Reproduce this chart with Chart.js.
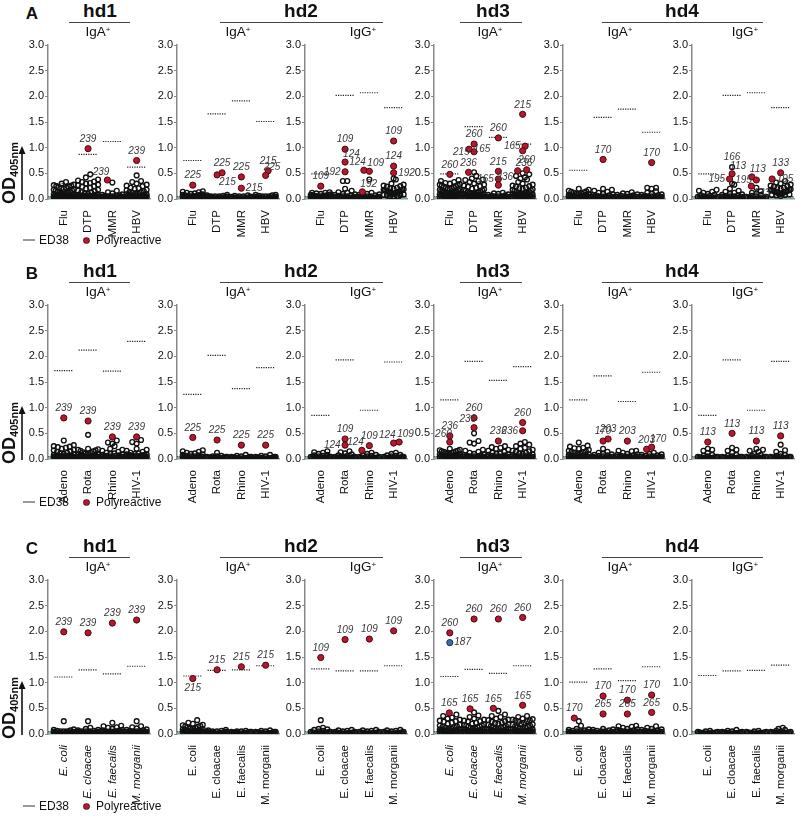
<!DOCTYPE html>
<html>
<head>
<meta charset="utf-8">
<title>OD405 reactivity of IgA+/IgG+ clones</title>
<script src="https://cdn.jsdelivr.net/npm/chart.js@4.4.1/dist/chart.umd.min.js"></script>
<style>
  body { margin: 0; background: #fff; }
  #fig { position: relative; width: 800px; height: 820px; overflow: hidden;
         font-family: "Liberation Sans", Arial, sans-serif; color: #111; }
  #fig canvas { position: absolute; }
  .t { position: absolute; white-space: nowrap; line-height: 1; }
  .c { transform: translate(-50%, -50%); }
  sup { font-size: 0.6em; vertical-align: 0.55em; }
  .odlab { font-weight: bold; font-size: 18px; transform: translate(-50%, -50%) rotate(-90deg); }
  .odlab sub { font-size: 11px; vertical-align: -0.25em; }
</style>
</head>
<body>
<div id="fig"></div>
<script>
'use strict';

// ── Data ─────────────────────────────────────────────────────────
// All OD405 values are stored ×100 (e.g. 37 = OD 0.37).

const categoriesA = ['Flu', 'DTP', 'MMR', 'HBV'];
const categoriesB = ['Adeno', 'Rota', 'Rhino', 'HIV-1'];
const categoriesC = ['E. coli', 'E. cloacae', 'E. faecalis', 'M. morganii'];

const donors   = ['hd1', 'hd2', 'hd3', 'hd4'];
const isotypes = ['IgA', 'IgA', 'IgG', 'IgA', 'IgA', 'IgG'];   // one per panel
const ed38Od   = 3;

// positive-control cut-off per panel, per category
const cutoffA = [[30, 87, 112, 62], [75, 166, 191, 151], [49, 202, 207, 178],
                 [49, 141, 120, 107], [56, 159, 175, 130], [49, 202, 207, 178]];
const cutoffB = [[172, 212, 171, 229], [126, 202, 137, 178], [85, 193, 95, 189],
                 [115, 190, 153, 180], [115, 162, 112, 169], [85, 193, 95, 190]];
const cutoffC = [[111, 125, 117, 132], [113, 124, 125, 133], [127, 123, 123, 133],
                 [112, 126, 118, 133], [101, 127, 104, 131], [114, 123, 124, 134]];

// non-polyreactive clones, per panel, per category
const clonesA = [
  [ // hd1 IgA
    [33, 30, 28, 27, 26, 25, 24, 23, 22, 21, 20, 19, 18, 17, 16, 15, 14, 13, 12, 12, 11, 10, 10, 9, 9, 8, 8, 7, 7, 6, 6, 5, 5, 5, 4, 4, 4, 3, 3, 3, 2, 2, 2, 1, 1, 1, 2, 2, 3, 3, 4, 4, 5, 6, 7],
    [48, 42, 38, 36, 34, 33, 31, 30, 28, 27, 25, 24, 22, 20, 18, 16, 15, 13, 12, 11, 10, 9, 8, 8, 7, 7, 6, 6, 5, 5, 5, 4, 4, 4, 3, 3, 3, 2, 2, 2, 1, 1, 1, 2, 2, 3, 3, 4, 5, 6],
    [32, 16, 13, 11, 9, 8, 7, 6, 6, 5, 5, 4, 4, 4, 3, 3, 3, 2, 2, 2, 2, 1, 1, 1, 1, 2, 2, 3, 3, 4, 5],
    [46, 35, 33, 30, 28, 26, 25, 22, 21, 20, 18, 17, 15, 14, 13, 12, 11, 10, 9, 9, 8, 8, 7, 7, 6, 6, 5, 5, 4, 4, 4, 3, 3, 3, 2, 2, 2, 1, 1, 1, 2, 2, 3, 3, 4, 5, 6],
  ],
  [ // hd2 IgA
    [15, 14, 13, 12, 11, 10, 9, 8, 8, 7, 7, 6, 6, 5, 5, 4, 4, 4, 3, 3, 3, 2, 2, 2, 1, 1, 1, 2, 2, 3, 3, 4, 5],
    [8, 7, 6, 5, 5, 4, 4, 4, 3, 3, 3, 3, 2, 2, 2, 2, 2, 1, 1, 1, 1, 1, 2, 2, 3, 3, 4, 5],
    [7, 6, 5, 5, 4, 4, 3, 3, 3, 2, 2, 2, 2, 1, 1, 1, 1, 1, 2, 2, 3, 3, 4],
    [8, 8, 7, 6, 5, 5, 4, 4, 3, 3, 3, 2, 2, 2, 2, 1, 1, 1, 1, 1, 2, 2, 3, 3, 4, 5],
  ],
  [ // hd2 IgG
    [13, 12, 12, 11, 10, 9, 8, 8, 7, 7, 6, 6, 5, 5, 4, 4, 4, 3, 3, 3, 2, 2, 2, 1, 1, 1, 2, 2, 3, 3, 4, 5],
    [35, 35, 20, 16, 13, 12, 10, 9, 8, 7, 6, 5, 5, 4, 4, 3, 3, 3, 2, 2, 2, 1, 1, 1, 2, 2, 3, 3, 4],
    [38, 12, 10, 9, 8, 7, 6, 5, 5, 4, 4, 3, 3, 3, 2, 2, 2, 1, 1, 1, 1, 2, 2, 3, 3, 4],
    [40, 38, 30, 28, 26, 25, 24, 22, 21, 20, 19, 18, 18, 17, 16, 15, 15, 14, 13, 12, 11, 10, 9, 8, 7, 6, 5, 4, 3, 2, 16, 14, 12, 10, 8, 6],
  ],
  [ // hd3 IgA
    [37, 35, 33, 31, 30, 29, 28, 27, 26, 25, 24, 23, 22, 21, 20, 20, 19, 18, 17, 16, 15, 15, 14, 13, 13, 12, 12, 11, 11, 10, 10, 9, 9, 8, 8, 8, 7, 7, 6, 6, 5, 5, 4, 4, 3, 3, 2, 2, 1, 1, 2, 3, 4, 5, 6, 7, 8],
    [52, 45, 40, 38, 37, 35, 33, 30, 28, 26, 25, 24, 22, 20, 19, 18, 17, 16, 15, 14, 13, 12, 12, 11, 10, 10, 9, 9, 8, 8, 7, 7, 6, 6, 5, 5, 4, 4, 3, 3, 2, 2, 1, 1, 2, 3, 4, 5, 6, 7],
    [12, 11, 10, 9, 8, 7, 6, 5, 5, 4, 4, 3, 3, 3, 2, 2, 2, 2, 1, 1, 1, 1, 1, 2, 2, 3, 3, 4, 5],
    [50, 48, 45, 42, 40, 38, 33, 30, 28, 26, 25, 24, 22, 21, 20, 19, 18, 17, 16, 15, 14, 13, 12, 12, 11, 10, 10, 9, 9, 8, 8, 7, 7, 6, 6, 5, 5, 4, 4, 3, 3, 2, 2, 1, 1, 2, 3, 4, 5, 6, 7],
  ],
  [ // hd4 IgA
    [20, 18, 16, 15, 14, 13, 12, 11, 10, 10, 9, 8, 8, 7, 7, 6, 6, 5, 5, 4, 4, 4, 3, 3, 2, 2, 1, 1, 2, 2, 3, 3, 4, 5],
    [20, 18, 16, 14, 12, 10, 9, 8, 7, 6, 5, 5, 4, 4, 3, 3, 3, 2, 2, 2, 1, 1, 1, 2, 2, 3, 3, 4],
    [13, 11, 10, 9, 8, 7, 6, 5, 5, 4, 4, 3, 3, 2, 2, 2, 1, 1, 1, 2, 2, 3, 3, 4],
    [22, 22, 20, 15, 12, 10, 9, 8, 7, 6, 5, 5, 4, 4, 3, 3, 3, 2, 2, 2, 1, 1, 1, 2, 2, 3, 3, 4, 5],
  ],
  [ // hd4 IgG
    [18, 16, 14, 12, 10, 8, 7, 6, 5, 4, 4, 3, 3, 2, 2, 1, 1, 1, 2, 2, 3, 3],
    [62, 30, 28, 20, 16, 14, 12, 10, 9, 8, 7, 6, 5, 5, 4, 4, 3, 3, 2, 2, 1, 1, 1, 2, 2, 3, 3, 4],
    [22, 15, 12, 10, 8, 6, 5, 4, 4, 3, 3, 2, 2, 1, 1, 1, 2, 2, 3, 3],
    [35, 32, 30, 28, 26, 25, 24, 22, 21, 20, 19, 18, 17, 16, 15, 14, 13, 12, 11, 10, 9, 8, 7, 6, 18, 16, 14, 12, 10, 8],
  ],
];

const clonesB = [
  [ // hd1 IgA
    [36, 27, 25, 24, 23, 22, 20, 18, 17, 15, 14, 12, 11, 10, 9, 8, 7, 7, 6, 6, 5, 5, 4, 4, 4, 3, 3, 3, 2, 2, 2, 1, 1, 1, 1, 2, 2, 3, 3, 4, 5],
    [47, 20, 19, 18, 17, 16, 15, 13, 12, 11, 10, 9, 8, 7, 7, 6, 6, 5, 5, 4, 4, 4, 3, 3, 3, 2, 2, 2, 1, 1, 1, 1, 2, 2, 3, 3, 4, 5],
    [36, 32, 30, 25, 20, 18, 16, 14, 12, 11, 10, 9, 8, 7, 6, 6, 5, 5, 4, 4, 3, 3, 3, 2, 2, 2, 1, 1, 1, 1, 2, 2, 3, 3, 4],
    [37, 33, 30, 20, 18, 16, 14, 12, 11, 10, 9, 9, 8, 8, 7, 7, 6, 6, 5, 5, 4, 4, 3, 3, 3, 2, 2, 2, 1, 1, 1, 2, 2, 3, 3, 4, 5],
  ],
  [ // hd2 IgA
    [17, 15, 14, 12, 11, 10, 9, 8, 7, 6, 5, 5, 4, 4, 3, 3, 3, 2, 2, 2, 1, 1, 1, 2, 2, 3, 3, 4],
    [12, 6, 5, 5, 4, 4, 3, 3, 3, 2, 2, 2, 2, 1, 1, 1, 1, 1, 2, 2, 3, 3, 4],
    [8, 6, 5, 4, 4, 3, 3, 3, 2, 2, 2, 2, 1, 1, 1, 1, 1, 2, 2, 3, 3, 4],
    [8, 6, 5, 4, 4, 3, 3, 3, 2, 2, 2, 2, 1, 1, 1, 1, 1, 2, 2, 3, 3, 4],
  ],
  [ // hd2 IgG
    [15, 13, 12, 10, 8, 7, 6, 5, 4, 4, 3, 3, 2, 2, 2, 1, 1, 1, 2, 2, 3, 3, 4],
    [15, 13, 11, 9, 7, 6, 5, 4, 4, 3, 3, 2, 2, 2, 1, 1, 1, 2, 2, 3, 3, 4],
    [12, 10, 8, 7, 6, 5, 4, 4, 3, 3, 2, 2, 2, 1, 1, 1, 1, 2, 2, 3, 3],
    [12, 10, 8, 7, 6, 5, 4, 4, 3, 3, 2, 2, 2, 1, 1, 1, 1, 2, 2, 3, 3, 4],
  ],
  [ // hd3 IgA
    [20, 18, 17, 16, 15, 15, 14, 13, 12, 12, 11, 10, 9, 9, 8, 8, 7, 7, 6, 6, 5, 5, 4, 4, 3, 3, 2, 2, 1, 1, 1, 2, 3, 4, 5, 6],
    [50, 35, 32, 30, 18, 16, 14, 12, 10, 9, 8, 7, 6, 5, 5, 4, 4, 3, 3, 2, 2, 1, 1, 1, 2, 2, 3, 3, 4, 5],
    [25, 23, 22, 20, 18, 16, 14, 12, 11, 10, 9, 8, 7, 6, 5, 5, 4, 4, 3, 3, 2, 2, 1, 1, 1, 2, 2, 3, 3, 4, 5],
    [33, 30, 28, 25, 22, 20, 18, 16, 15, 14, 12, 11, 10, 9, 8, 7, 6, 5, 5, 4, 4, 3, 3, 2, 2, 1, 1, 1, 2, 2, 3, 3, 4, 5],
  ],
  [ // hd4 IgA
    [32, 26, 24, 22, 21, 20, 18, 16, 15, 14, 13, 12, 11, 10, 9, 8, 7, 6, 6, 5, 5, 4, 4, 3, 3, 2, 2, 1, 1, 1, 2, 2, 3, 3, 4, 5],
    [20, 14, 12, 10, 9, 8, 7, 6, 5, 4, 4, 3, 3, 2, 2, 1, 1, 1, 2, 2, 3, 3, 4],
    [16, 16, 15, 12, 10, 9, 8, 7, 6, 5, 5, 4, 4, 3, 3, 2, 2, 1, 1, 1, 2, 2, 3, 3, 4],
    [12, 10, 9, 8, 7, 6, 5, 5, 4, 4, 3, 3, 2, 2, 1, 1, 1, 2, 2, 3, 3, 4],
  ],
  [ // hd4 IgG
    [20, 18, 16, 12, 8, 6, 5, 4, 4, 3, 3, 2, 2, 1, 1, 1, 2, 2, 3, 3, 4],
    [22, 18, 16, 12, 8, 6, 5, 4, 4, 3, 3, 2, 2, 1, 1, 1, 2, 2, 3, 3, 4],
    [20, 18, 16, 14, 10, 8, 6, 5, 4, 4, 3, 3, 2, 2, 1, 1, 1, 2, 2, 3, 3, 4],
    [28, 17, 14, 10, 8, 6, 5, 4, 4, 3, 3, 2, 2, 1, 1, 1, 2, 2, 3, 3, 4],
  ],
];

const clonesC = [
  [ // hd1 IgA
    [25, 9, 8, 7, 6, 5, 5, 4, 4, 3, 3, 3, 2, 2, 2, 1, 1, 1, 1, 2, 2, 3, 3, 4, 5],
    [25, 12, 10, 8, 7, 6, 5, 5, 4, 4, 3, 3, 3, 2, 2, 2, 1, 1, 1, 1, 2, 2, 3, 3, 4, 5],
    [22, 16, 15, 13, 12, 10, 8, 7, 6, 5, 5, 4, 4, 3, 3, 3, 2, 2, 2, 1, 1, 1, 2, 2, 3, 3, 4, 5],
    [25, 15, 13, 11, 9, 8, 7, 6, 5, 5, 4, 4, 3, 3, 3, 2, 2, 2, 1, 1, 1, 2, 2, 3, 3, 4, 5],
  ],
  [ // hd2 IgA
    [27, 22, 20, 18, 17, 16, 15, 14, 13, 12, 11, 10, 9, 9, 8, 8, 7, 7, 6, 6, 5, 5, 4, 4, 3, 3, 2, 2, 1, 1, 1, 2, 3, 4, 5, 6],
    [8, 7, 6, 5, 5, 4, 4, 3, 3, 3, 2, 2, 2, 1, 1, 1, 1, 2, 2, 3, 3, 4],
    [6, 5, 5, 4, 4, 3, 3, 3, 2, 2, 2, 1, 1, 1, 1, 2, 2, 3, 3, 4],
    [7, 6, 5, 4, 4, 3, 3, 3, 2, 2, 2, 1, 1, 1, 1, 2, 2, 3, 3, 4],
  ],
  [ // hd2 IgG
    [27, 12, 10, 9, 8, 6, 5, 4, 4, 3, 3, 2, 2, 1, 1, 1, 2, 2, 3, 3, 4],
    [8, 7, 6, 5, 4, 4, 3, 3, 2, 2, 2, 1, 1, 1, 1, 2, 2, 3, 3],
    [8, 7, 6, 5, 4, 4, 3, 3, 2, 2, 2, 1, 1, 1, 1, 2, 2, 3, 3],
    [8, 7, 6, 5, 4, 4, 3, 3, 2, 2, 2, 1, 1, 1, 1, 2, 2, 3, 3],
  ],
  [ // hd3 IgA
    [38, 35, 32, 30, 28, 26, 25, 24, 22, 20, 18, 16, 15, 14, 13, 12, 11, 10, 9, 9, 8, 8, 7, 7, 6, 6, 5, 5, 4, 4, 3, 3, 2, 2, 1, 1, 1, 2, 3, 4, 5, 6],
    [42, 36, 33, 30, 28, 26, 25, 24, 22, 20, 19, 18, 17, 16, 15, 14, 13, 12, 11, 10, 9, 9, 8, 8, 7, 7, 6, 6, 5, 5, 4, 4, 3, 3, 2, 2, 1, 1, 1, 2, 3, 4, 5, 6],
    [45, 38, 35, 33, 30, 28, 27, 25, 24, 22, 21, 20, 19, 18, 16, 15, 14, 13, 12, 11, 10, 9, 9, 8, 8, 7, 7, 6, 6, 5, 5, 4, 4, 3, 3, 2, 2, 1, 1, 1, 2, 3, 4, 5, 6],
    [35, 33, 30, 29, 28, 27, 26, 25, 24, 22, 20, 19, 18, 16, 15, 14, 13, 12, 11, 10, 9, 9, 8, 8, 7, 7, 6, 6, 5, 5, 4, 4, 3, 3, 2, 2, 1, 1, 1, 2, 3, 4, 5, 6],
  ],
  [ // hd4 IgA
    [25, 16, 10, 9, 8, 7, 6, 5, 5, 4, 4, 3, 3, 2, 2, 1, 1, 1, 2, 2, 3, 3, 4],
    [10, 9, 8, 7, 6, 5, 5, 4, 4, 3, 3, 2, 2, 2, 1, 1, 1, 1, 2, 2, 3, 3, 4],
    [16, 15, 14, 12, 10, 9, 8, 7, 6, 5, 5, 4, 4, 3, 3, 2, 2, 1, 1, 1, 2, 2, 3, 3, 4],
    [15, 12, 10, 9, 8, 7, 6, 5, 5, 4, 4, 3, 3, 2, 2, 1, 1, 1, 2, 2, 3, 3, 4],
  ],
  [ // hd4 IgG
    [6, 5, 4, 4, 3, 3, 2, 2, 2, 1, 1, 1, 1, 2, 2, 3, 3],
    [8, 6, 5, 4, 4, 3, 3, 2, 2, 2, 1, 1, 1, 1, 2, 2, 3, 3],
    [6, 5, 4, 4, 3, 3, 2, 2, 2, 1, 1, 1, 1, 2, 2, 3, 3],
    [12, 10, 8, 6, 5, 4, 4, 3, 3, 2, 2, 2, 1, 1, 1, 1, 2, 2, 3, 3],
  ],
];

// polyreactive clones: [panel, category, OD×100, clone id]
const polyA = [
  [0, 1, 98, '239'], [0, 2, 37, '239'], [0, 3, 75, '239'],
  [1, 0, 27, '225'], [1, 1, 51, '225'], [1, 1, 47, '215'], [1, 2, 43, '225'], [1, 2, 21, '215'], [1, 3, 55, '215'], [1, 3, 46, '225'],
  [2, 0, 25, '109'], [2, 1, 97, '109'], [2, 1, 72, '124'], [2, 1, 53, '192'], [2, 2, 56, '124'], [2, 2, 54, '109'], [2, 2, 14, '192'],
  [2, 3, 113, '109'], [2, 3, 64, '124'], [2, 3, 51, '192'],
  [3, 0, 48, '260'], [3, 1, 107, '260'], [3, 1, 92, '215'], [3, 1, 97, '165'], [3, 1, 52, '236'],
  [3, 2, 119, '260'], [3, 2, 54, '215'], [3, 2, 39, '165'], [3, 2, 27, '236'],
  [3, 3, 165, '215'], [3, 3, 103, '165'], [3, 3, 94, ''], [3, 3, 57, '260'], [3, 3, 55, '236'],
  [4, 1, 77, '170'], [4, 3, 71, '170'],
  [5, 1, 49, '113'], [5, 1, 39, '195'], [5, 2, 43, '113'], [5, 2, 37, '195'], [5, 2, 25, '133'], [5, 3, 51, '133'], [5, 3, 39, '195'],
];
const polyB = [
  [0, 0, 80, '239'], [0, 1, 74, '239'], [0, 2, 43, '239'], [0, 3, 43, '239'],
  [1, 0, 42, '225'], [1, 1, 37, '225'], [1, 2, 27, '225'], [1, 3, 27, '225'],
  [2, 1, 39, '109'], [2, 1, 27, '124'], [2, 2, 17, '124'], [2, 2, 26, '109'], [2, 3, 31, '124'], [2, 3, 33, '109'],
  [3, 0, 33, '260'], [3, 0, 45, '236'], [3, 1, 80, '260'], [3, 1, 61, '236'], [3, 2, 35, '236'], [3, 3, 71, '260'], [3, 3, 55, '236'],
  [4, 1, 35, '170'], [4, 1, 39, '203'], [4, 2, 35, '203'], [4, 3, 19, '203'], [4, 3, 23, '170'],
  [5, 0, 33, '113'], [5, 1, 50, '113'], [5, 2, 35, '113'], [5, 3, 45, '113'],
];
const polyC = [
  [0, 0, 199, '239'], [0, 1, 197, '239'], [0, 2, 216, '239'], [0, 3, 222, '239'],
  [1, 0, 108, '215'], [1, 1, 125, '215'], [1, 2, 131, '215'], [1, 3, 134, '215'],
  [2, 0, 149, '109'], [2, 1, 184, '109'], [2, 2, 185, '109'], [2, 3, 201, '109'],
  [3, 0, 197, '260'], [3, 0, 41, '165'], [3, 1, 224, '260'], [3, 1, 49, '165'],
  [3, 2, 224, '260'], [3, 2, 50, '165'], [3, 3, 227, '260'], [3, 3, 56, '165'],
  [4, 0, 31, '170'], [4, 1, 74, '170'], [4, 1, 39, '265'], [4, 2, 66, '170'], [4, 2, 39, '265'], [4, 3, 76, '170'], [4, 3, 42, '265'],
];
// clone shown in blue (hd3, E. coli)
const otherC = [[3, 0, 178, '187']];
// non-polyreactive clones that carry an id in the figure
const namedA = [[5, 1, 62, '166']];

// ── Label sides (t, b, l, r, tl, tr, br), parallel to the lists above ──
const polySideA = ['t', 'tl', 't', 't', 't', 'br', 't', 'r', 't', 'tr',
  't', 't', 'tr', 'l', 'tl', 'tr', 'tr', 't', 't', 'r',
  't', 't', 'l', 'r', 't', 't', 't', 'l', 'tr', 't', 'l', '', 't', 'tr',
  't', 't', 'tr', 'l', 'tr', 'l', 'br', 't', 'r'];
const polySideB = ['t', 't', 't', 't', 't', 't', 't', 't',
  't', 'l', 'tl', 't', 'tl', 'tr',
  'tl', 't', 't', 'tl', 't', 't', 'l',
  't', 't', 't', 't', 'tr', 't', 't', 't', 't'];
const polySideC = ['t', 't', 't', 't', 'b', 't', 't', 't', 't', 't', 't', 't',
  't', 't', 't', 't', 't', 't', 't', 't', 't', 't', 't', 't', 't', 't', 't'];

// ── Layout ───────────────────────────────────────────────────────
const FONT = '"Liberation Sans", Arial, sans-serif';
const AXIS_X   = [48, 177, 305, 434, 563, 692];
const ROW_TOP  = [0, 260, 535];
const PLOT_TOP = 45;
const PLOT_H   = 154;
const PLOT_W   = 102;
const Y_AXIS_W = 40;
const X_AXIS_H = 75;
const PAD_TOP = 10;
const PAD_RIGHT = 16;
const X_MIN = -0.65;
const X_MAX = 3.55;
const PX_PER_OD  = PLOT_H / 3;
const PX_PER_CAT = PLOT_W / (X_MAX - X_MIN);
const LEGEND_Y = [240, 502, 806];
const ITALIC_PANELS_C = [0, 3];

const rows = [
  { letter: 'A', cats: categoriesA, cut: cutoffA, clones: clonesA, poly: polyA, sides: polySideA, other: [], named: namedA, namedSides: ['t'] },
  { letter: 'B', cats: categoriesB, cut: cutoffB, clones: clonesB, poly: polyB, sides: polySideB, other: [], named: [], namedSides: [] },
  { letter: 'C', cats: categoriesC, cut: cutoffC, clones: clonesC, poly: polyC, sides: polySideC, other: otherC, named: [], namedSides: [], italic: ITALIC_PANELS_C },
];

// ── Column scatter: horizontal offsets (px) inside one category ──
// Open clones are binned by height and spread in centred rows (lowest
// values in the middle, as Prism does). Rows are finer near the baseline
// where clones pile up. Coloured clones are then slotted in beside them.
function rowKey(yPx) {
  return yPx < 5 ? Math.floor(yPx / 2.4) : 10 + Math.floor(yPx / 5);
}

function columnOffsets(pts) {
  const S_MAX = 4.4, HALF = 10;
  const bins = new Map();
  pts.filter(pt => pt.kind === 'open').forEach(pt => {
    const b = rowKey(pt.od * PX_PER_OD);
    if (!bins.has(b)) bins.set(b, []);
    bins.get(b).push(pt);
  });
  const placed = [];
  bins.forEach(list => {
    list.sort((a, b) => a.od - b.od);
    const n = list.length;
    const s = n > 1 ? Math.min(S_MAX, 2 * HALF / (n - 1)) : 0;
    const slots = list.map((_, k) => (k - (n - 1) / 2) * s)
      .sort((a, b) => Math.abs(a) - Math.abs(b) || a - b);
    list.forEach((pt, k) => {
      pt.dx = slots[k];
      placed.push({ x: pt.dx, y: pt.od * PX_PER_OD });
    });
  });

  const MIN_D = 5.2, STEP = 0.5, MAX_HALF = 11;
  pts.filter(pt => pt.kind !== 'open').sort((a, b) => a.od - b.od).forEach((pt, n) => {
    const y = pt.od * PX_PER_OD;
    const dir = n % 2 ? 1 : -1;
    let best = 0, bestGap = -1;
    for (let k = 0; k * STEP <= MAX_HALF; k++) {
      const cands = k === 0 ? [0] : [dir * k * STEP, -dir * k * STEP];
      let found = false;
      for (const dx of cands) {
        let gap = Infinity;
        for (const q of placed) gap = Math.min(gap, Math.hypot(q.x - dx, q.y - y));
        if (gap >= MIN_D) { best = dx; found = true; break; }
        if (gap > bestGap) { bestGap = gap; best = dx; }
      }
      if (found) break;
    }
    pt.dx = best;
    placed.push({ x: best, y });
  });
}

function buildPoints(row, p) {
  const open = [], poly = [], other = [];
  row.cats.forEach((_, c) => {
    const pts = row.clones[p][c].map(v => ({ kind: 'open', od: v / 100 }));
    row.poly.forEach((e, i) => {
      if (e[0] === p && e[1] === c) pts.push({ kind: 'poly', od: e[2] / 100, tag: e[3], side: row.sides[i] });
    });
    row.other.forEach(e => {
      if (e[0] === p && e[1] === c) pts.push({ kind: 'other', od: e[2] / 100, tag: e[3], side: 'r' });
    });
    row.named.forEach((e, i) => {
      if (e[0] !== p || e[1] !== c) return;
      const hit = pts.find(pt => pt.kind === 'open' && Math.abs(pt.od - e[2] / 100) < 1e-6);
      if (hit) { hit.tag = e[3]; hit.side = row.namedSides[i]; }
    });
    columnOffsets(pts);
    pts.forEach(pt => {
      const d = { x: c + pt.dx / PX_PER_CAT, y: pt.od, tag: pt.tag, side: pt.side };
      (pt.kind === 'open' ? open : pt.kind === 'poly' ? poly : other).push(d);
    });
  });
  return { open, poly, other };
}

function cutoffSegments(row, p) {
  const segs = [];
  row.cut[p].forEach((v, c) => {
    segs.push({ x: c - 0.39, y: v / 100 }, { x: c + 0.39, y: v / 100 }, { x: c + 0.5, y: null });
  });
  return segs;
}

// ── Clone id labels ──────────────────────────────────────────────
function drawTag(ctx, text, side, x, y) {
  const g = 4.5;
  const spec = {
    t:  ['center', 'bottom', x, y - g],
    b:  ['center', 'top', x, y + g],
    l:  ['right', 'middle', x - g, y],
    r:  ['left', 'middle', x + g, y],
    tl: ['right', 'bottom', x + 2, y - 3],
    tr: ['left', 'bottom', x - 2, y - 3],
    br: ['left', 'top', x + 2, y + 2],
  }[side];
  if (!spec) return;
  ctx.textAlign = spec[0];
  ctx.textBaseline = spec[1];
  ctx.fillText(text, spec[2], spec[3]);
}

const cloneTagPlugin = {
  id: 'cloneTags',
  afterDatasetsDraw(chart) {
    const ctx = chart.ctx;
    ctx.save();
    ctx.font = 'italic 10px ' + FONT;
    ctx.fillStyle = '#3a3a3a';
    chart.data.datasets.forEach((ds, di) => {
      const meta = chart.getDatasetMeta(di);
      ds.data.forEach((pt, i) => {
        if (pt && pt.tag) drawTag(ctx, pt.tag, pt.side, meta.data[i].x, meta.data[i].y);
      });
    });
    ctx.restore();
  },
};

// ── Panels ───────────────────────────────────────────────────────
const fig = document.getElementById('fig');

function buildPanel(r, p) {
  const row = rows[r];
  const canvas = document.createElement('canvas');
  const w = Y_AXIS_W + PLOT_W + PAD_RIGHT;
  const h = PAD_TOP + PLOT_H + X_AXIS_H;
  canvas.width = w; canvas.height = h;
  canvas.style.width = w + 'px'; canvas.style.height = h + 'px';
  canvas.style.left = (AXIS_X[p] - Y_AXIS_W) + 'px';
  canvas.style.top = (PLOT_TOP + ROW_TOP[r] - PAD_TOP) + 'px';
  fig.appendChild(canvas);

  const pts = buildPoints(row, p);
  const italic = row.italic && row.italic.includes(p);
  const lineDs = (data, color, width, dash, order) => ({
    data, showLine: true, spanGaps: false, pointRadius: 0, pointHoverRadius: 0,
    borderColor: color, borderWidth: width, borderDash: dash, order,
  });
  const dotDs = (data, fill, stroke, radius, width, order) => ({
    data, showLine: false, pointRadius: radius, pointHoverRadius: radius,
    pointBackgroundColor: fill, pointBorderColor: stroke, pointBorderWidth: width, order,
  });

  new Chart(canvas, {
    type: 'scatter',
    data: {
      datasets: [
        dotDs(pts.other, '#3d6aa8', '#1b2f55', 3.1, 1, 0),
        dotDs(pts.poly, '#b3182e', '#4d0911', 3.1, 1, 1),
        dotDs(pts.open, 'rgba(255,255,255,0)', '#111111', 2.4, 1.35, 2),
        lineDs(cutoffSegments(row, p), '#222', 1.2, [1.2, 1.2], 3),
        lineDs([{ x: X_MIN, y: 0.045 }, { x: X_MAX, y: 0.045 }], '#3c4a40', 1, [1, 1.5], 4),
        lineDs([{ x: X_MIN, y: ed38Od / 100 }, { x: X_MAX, y: ed38Od / 100 }], 'rgba(126,170,140,0.85)', 3, [], 5),
      ],
    },
    options: {
      responsive: false,
      animation: false,
      events: [],
      layout: { padding: { top: PAD_TOP, right: PAD_RIGHT, left: 0, bottom: 0 } },
      plugins: { legend: { display: false }, tooltip: { enabled: false } },
      scales: {
        x: {
          type: 'linear', min: X_MIN, max: X_MAX,
          afterBuildTicks: s => { s.ticks = row.cats.map((_, i) => ({ value: i })); },
          afterFit: s => { s.height = X_AXIS_H; },
          ticks: {
            autoSkip: false, maxRotation: 90, minRotation: 90, padding: 3, color: '#111',
            font: { family: FONT, size: 11.5, style: italic ? 'italic' : 'normal' },
            callback: v => row.cats[v],
          },
          grid: { display: false },
          border: { display: true, color: '#8d9a92', width: 1.5 },
        },
        y: {
          min: 0, max: 3,
          afterFit: s => { s.width = Y_AXIS_W; },
          ticks: { stepSize: 0.5, padding: 1, color: '#111', font: { family: FONT, size: 11 }, callback: v => v.toFixed(1) },
          grid: { drawOnChartArea: false, drawTicks: true, tickLength: 3, color: '#888' },
          border: { display: true, color: '#888', width: 1.5 },
        },
      },
    },
    plugins: [cloneTagPlugin],
  });
}

// ── Headers, axis titles, legends ────────────────────────────────
function text(html, x, y, style, centred = true) {
  const d = document.createElement('div');
  d.className = 't' + (centred ? ' c' : '');
  d.innerHTML = html;
  d.style.left = x + 'px';
  d.style.top = y + 'px';
  Object.assign(d.style, style || {});
  fig.appendChild(d);
  return d;
}

const DONOR_X    = [100, 301, 493, 682];
const DONOR_RULE = [[69, 130], [220, 383], [460, 522], [602, 763]];
const ISO_X      = [98, 238, 363, 490, 620, 745];

function buildRowDecor(r) {
  const top = ROW_TOP[r];
  const zeroY = PLOT_TOP + top + PLOT_H;
  text(rows[r].letter, 32, top + 13, { fontWeight: 'bold', fontSize: '17px' });
  donors.forEach((name, i) => {
    text(name, DONOR_X[i], top + 10, { fontWeight: 'bold', fontSize: '19px' });
    const [x1, x2] = DONOR_RULE[i];
    text('', x1, top + 21.5, { width: (x2 - x1) + 'px', height: '1.5px', background: '#444' }, false);
  });
  isotypes.forEach((iso, i) => text(iso + '<sup>+</sup>', ISO_X[i], top + 32, { fontSize: '13.5px' }));

  text('OD<sub>405nm</sub>', 10, zeroY - 26, {}, false).className = 't odlab';
  const arrow = document.createElementNS('http://www.w3.org/2000/svg', 'svg');
  arrow.setAttribute('width', '10'); arrow.setAttribute('height', '54');
  arrow.style.position = 'absolute';
  arrow.style.left = '17px';
  arrow.style.top = (zeroY - 53) + 'px';
  arrow.innerHTML = '<line x1="5" y1="54" x2="5" y2="6" stroke="#111" stroke-width="1.6"/>' +
                    '<polygon points="1.5,8 5,0 8.5,8" fill="#111"/>';
  fig.appendChild(arrow);

  const ly = LEGEND_Y[r];
  text('', 23, ly - 0.75, { width: '12px', height: '1.5px', background: '#999' }, false);
  text('ED38', 39, ly - 6, { fontSize: '12px' }, false);
  text('', 84, ly - 2.5, { width: '5px', height: '5px', borderRadius: '50%', background: '#b3182e', boxShadow: '0 0 0 0.8px #4d0911' }, false);
  text('Polyreactive', 96, ly - 6, { fontSize: '12px' }, false);
}

rows.forEach((_, r) => {
  for (let p = 0; p < 6; p++) buildPanel(r, p);
  buildRowDecor(r);
});
</script>
</body>
</html>
